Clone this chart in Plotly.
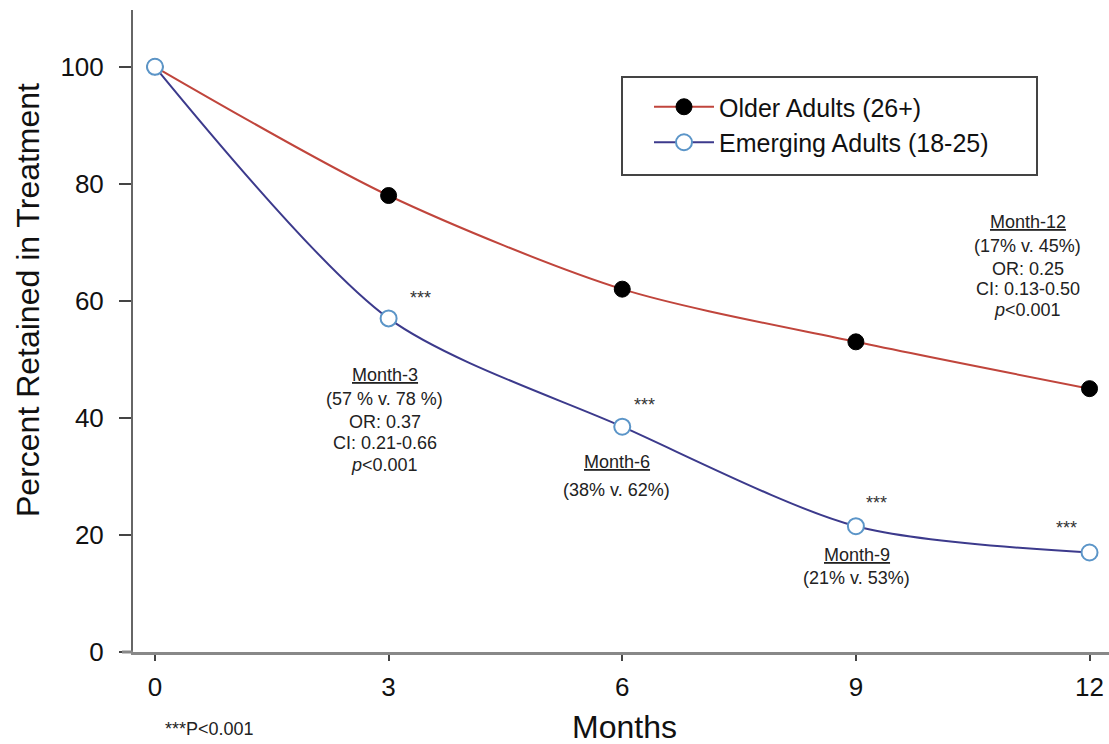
import plotly.graph_objects as go

months = [0, 3, 6, 9, 12]
older = [100, 78, 62, 53, 45]
emerging = [100, 57, 38.5, 21.5, 17]
x_ticks = [0, 3, 6, 9, 12]
y_ticks = [0, 20, 40, 60, 80, 100]

# helpers converting reference-picture pixels into placement coords (annotations only)
def dx(px):
    return (px - 155) / 77.9

def dy(py):
    return (652 - py) / 5.85

def px_(px):
    return (px - 133) / 976

def py_(py):
    return (652 - py) / 642

fig = go.Figure()
fig.add_trace(go.Scatter(
    x=months, y=older, mode="lines+markers", name="Older Adults (26+)",
    line=dict(color="#c0453c", width=2, shape="spline", smoothing=0.8),
    marker=dict(color="black", size=16, line=dict(color="black", width=1)),
))
fig.add_trace(go.Scatter(
    x=months, y=emerging, mode="lines+markers", name="Emerging Adults (18-25)",
    line=dict(color="#3c3a8c", width=2, shape="spline", smoothing=0.8),
    marker=dict(color="white", size=16, line=dict(color="#5b95c8", width=2)),
))

ann_font = dict(family="Arial, Liberation Sans", size=18, color="#222222")
blocks = [
    (385, [375, 399, 422, 443, 465], ["<u>Month-3</u>", "(57 % v. 78 %)", "OR: 0.37", "CI: 0.21-0.66", "<i>p</i><0.001"]),
    (617, [462, 490], ["<u>Month-6</u>", "(38% v. 62%)"]),
    (857, [555, 578], ["<u>Month-9</u>", "(21% v. 53%)"]),
    (1028, [222, 246, 269, 289, 310], ["<u>Month-12</u>", "(17% v. 45%)", "OR: 0.25", "CI: 0.13-0.50", "<i>p</i><0.001"]),
]
anns = []
for cx, ys, texts in blocks:
    for yy, t in zip(ys, texts):
        anns.append(dict(x=dx(cx), y=dy(yy), xref="x", yref="y", text=t,
                         showarrow=False, font=ann_font, xanchor="center", yanchor="middle"))
for sx, sy in [(421, 298), (645, 405), (877, 503), (1067, 528)]:
    anns.append(dict(x=dx(sx), y=dy(sy), xref="x", yref="y", text="***",
                     showarrow=False, font=dict(family="Arial", size=18, color="#333"),
                     xanchor="center", yanchor="middle"))
anns.append(dict(x=px_(209), y=py_(729), xref="paper", yref="paper", text="***P<0.001",
                 showarrow=False, xanchor="center", yanchor="middle",
                 font=dict(family="Arial", size=18, color="#222")))
anns.append(dict(x=px_(28), y=py_(300), xref="paper", yref="paper",
                 text="Percent Retained in Treatment", textangle=-90, showarrow=False,
                 xanchor="center", yanchor="middle",
                 font=dict(family="Arial", size=32, color="#111")))
anns.append(dict(x=px_(624), y=py_(727), xref="paper", yref="paper",
                 text="Months", showarrow=False, xanchor="center", yanchor="middle",
                 font=dict(family="Arial", size=32, color="#111")))

shapes = [
    dict(type="rect", xref="paper", yref="paper", x0=px_(622), x1=px_(1037),
         y0=py_(175), y1=py_(77), line=dict(color="#444", width=2), layer="above"),
    dict(type="line", xref="paper", yref="paper", x0=px_(122), x1=0, y0=0, y1=0,
         line=dict(color="#888", width=3)),
]

fig.update_layout(
    width=1109, height=744,
    margin=dict(l=133, r=0, t=10, b=92),
    paper_bgcolor="white", plot_bgcolor="white",
    showlegend=True,
    legend=dict(x=px_(649), y=py_(84), xanchor="left", yanchor="top",
                borderwidth=0, bgcolor="rgba(0,0,0,0)",
                font=dict(family="Arial", size=25, color="#111"),
                itemwidth=60, tracegroupgap=0),
    annotations=anns,
    shapes=shapes,
    xaxis=dict(range=[-0.282, 12.25], tickvals=x_ticks, ticks="outside", ticklen=6,
               tickcolor="#444", tickwidth=2, showline=True, linecolor="#888", linewidth=3,
               showgrid=False, zeroline=False, ticklabelstandoff=4,
               tickfont=dict(family="Arial", size=26, color="#111")),
    yaxis=dict(range=[0, 109.7], tickvals=y_ticks, ticks="outside", ticklen=12,
               tickcolor="#444", tickwidth=2, showline=True, linecolor="#666", linewidth=2,
               showgrid=False, zeroline=False, ticklabelstandoff=10,
               tickfont=dict(family="Arial", size=26, color="#111")),
)
fig.write_html(
    "out.html",
    config={"displayModeBar": False},
    post_script="document.body.style.margin='0';document.body.style.overflow='hidden';",
)
